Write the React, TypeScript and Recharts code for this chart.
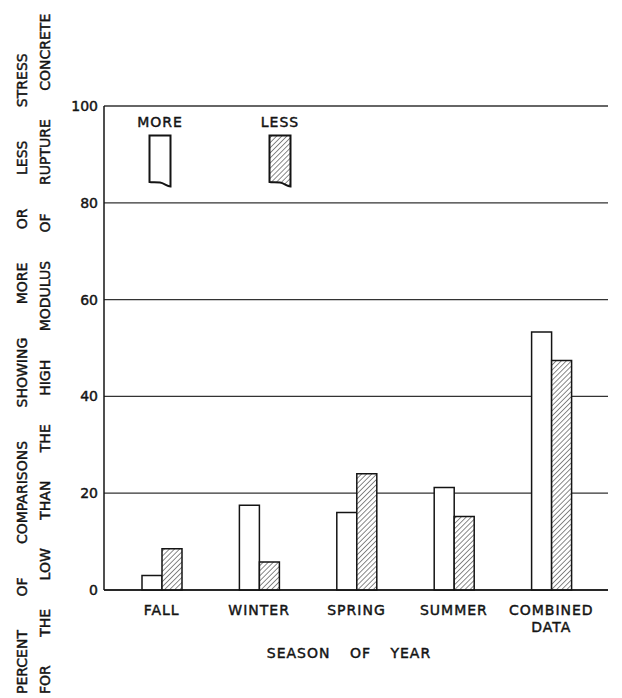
import React from 'react';
import { BarChart, Bar, XAxis, YAxis, CartesianGrid, Legend } from 'recharts';

const seasons = ['FALL', 'WINTER', 'SPRING', 'SUMMER', 'COMBINED\nDATA'];
const moreStress = [3, 17.5, 16, 21.2, 53.3];
const lessStress = [8.5, 5.8, 24, 15.2, 47.4];
const yTicks = [0, 20, 40, 60, 80, 100];

const yTitle = [
  'PERCENT OF COMPARISONS SHOWING MORE OR LESS STRESS',
  'FOR THE LOW THAN THE HIGH MODULUS OF RUPTURE CONCRETE',
];
const xTitle = 'SEASON OF YEAR';
const keyOrder = ['more', 'less'];

const data = seasons.map((season, i) => ({
  season,
  more: moreStress[i],
  less: lessStress[i],
}));

const FONT = '"DejaVu Sans", sans-serif';
const INK = '#141414';
// a thin outline makes the regular face look like the inked lettering
const LETTER = { fill: INK, stroke: INK, strokeWidth: 0.45, fontFamily: FONT };

function SeasonTick({ x, y, payload }: any) {
  const lines = String(payload.value).split('\n');
  return (
    <text x={x} y={y} textAnchor="middle" {...LETTER} fontSize={14} letterSpacing={1}>
      {lines.map((l, i) => (
        <tspan key={i} x={x} dy={i === 0 ? '0.71em' : 17}>
          {l}
        </tspan>
      ))}
    </text>
  );
}

function XTitle() {
  return (
    <text x={349} y={658} textAnchor="middle" {...LETTER} fontSize={14} letterSpacing={1} wordSpacing={14}>
      {xTitle}
    </text>
  );
}

function YTitle() {
  return (
    <g {...LETTER} fontSize={14}>
      <text x={27} y={694} transform="rotate(-90 27 694)" wordSpacing={29}>{yTitle[0]}</text>
      <text x={50} y={694} transform="rotate(-90 50 694)" wordSpacing={24}>{yTitle[1]}</text>
    </g>
  );
}

// broken-bar legend symbol, like the hand drawn key
function KeySymbol({ hatched }: { hatched: boolean }) {
  return (
    <svg width={24} height={54} style={{ display: 'block', margin: '0 auto' }}>
      <path
        d="M1.5,1.5 H22.5 V52.5 C19,52.5 16,49 12,48.5 C8,48 4,48.5 1.5,48 Z"
        fill={hatched ? 'url(#hatch)' : '#fff'}
        stroke={INK}
        strokeWidth={2}
      />
    </svg>
  );
}

function KeyContent({ payload }: any) {
  const items = [...(payload || [])].sort(
    (a: any, b: any) => keyOrder.indexOf(a.dataKey) - keyOrder.indexOf(b.dataKey)
  );
  return (
    <div
      style={{
        display: 'flex',
        fontFamily: FONT,
        fontSize: 14,
        letterSpacing: 1,
        color: INK,
        WebkitTextStroke: '0.45px #141414',
      }}
    >
      {items.map((p: any, i: number) => (
        <div key={p.value} style={{ width: 50, textAlign: 'center', marginLeft: i === 0 ? 0 : 70 }}>
          <div style={{ lineHeight: '18px', marginBottom: 3 }}>{p.value}</div>
          <KeySymbol hatched={p.dataKey === 'less'} />
        </div>
      ))}
    </div>
  );
}

export default function App() {
  return (
    <div style={{ position: 'absolute', left: 0, top: 0, width: 622, height: 698, background: '#fff' }}>
      <BarChart
        width={622}
        height={698}
        data={data}
        margin={{ top: 106, right: 14, left: 64, bottom: 48 }}
        barGap={0}
        barSize={20}
      >
        <defs>
          <pattern id="hatch" patternUnits="userSpaceOnUse" width={3.6} height={3.6} patternTransform="rotate(45)">
            <rect width={3.6} height={3.6} fill="#fff" />
            <line x1={0} y1={0} x2={0} y2={3.6} stroke={INK} strokeWidth={1} />
          </pattern>
        </defs>
        <CartesianGrid vertical={false} stroke="#333" strokeWidth={1.3} />
        <XAxis
          dataKey="season"
          interval={0}
          tickLine={false}
          axisLine={{ stroke: INK, strokeWidth: 1.5 }}
          padding={{ left: 9, right: 8 }}
          tickSize={10}
          tickMargin={5}
          height={60}
          tick={<SeasonTick />}
          label={{ content: () => <XTitle /> }}
        />
        <YAxis
          domain={[0, 100]}
          ticks={yTicks}
          interval={0}
          tickLine={false}
          axisLine={{ stroke: INK, strokeWidth: 1.5 }}
          width={40}
          tickSize={4}
          tickMargin={2}
          tick={{ ...LETTER, fontSize: 14 }}
          label={{ content: () => <YTitle /> }}
        />
        <YAxis
          yAxisId="frame"
          orientation="right"
          domain={[0, 100]}
          width={0}
          tick={false}
          tickLine={false}
          axisLine={{ stroke: '#333', strokeWidth: 1.5 }}
        />
        <Legend
          layout="horizontal"
          verticalAlign="middle"
          align="center"
          wrapperStyle={{ left: 135, top: 113, width: 'auto' }}
          content={<KeyContent />}
        />
        <Bar dataKey="more" name="MORE" fill="#fff" stroke={INK} strokeWidth={1.5} isAnimationActive={false} />
        <Bar dataKey="less" name="LESS" fill="url(#hatch)" stroke={INK} strokeWidth={1.5} isAnimationActive={false} />
      </BarChart>
    </div>
  );
}
